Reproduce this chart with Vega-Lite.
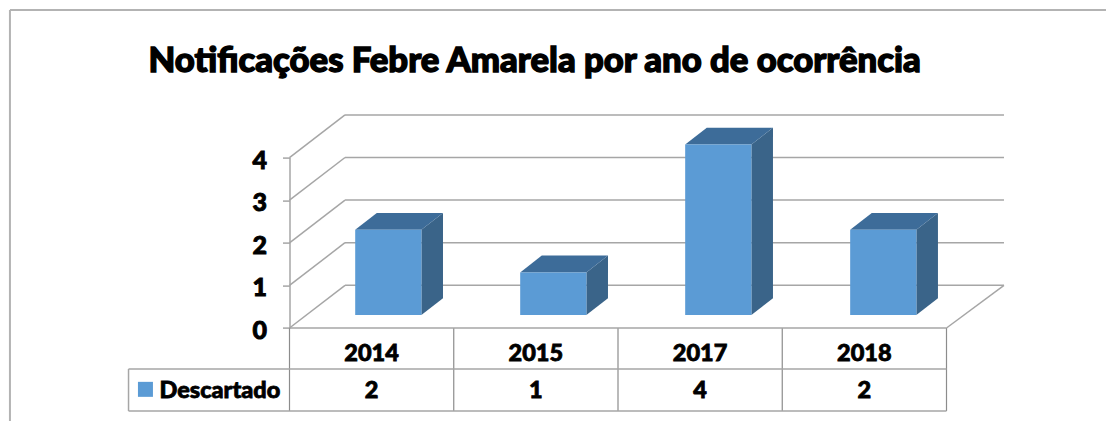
{
"$schema":"https://vega.github.io/schema/vega-lite/v6.json",
"width":657,"height":170.4,
"autosize":"none",
"padding":{"left":289.5,"top":157.6,"right":159.5,"bottom":93},
"background":"white",
"title":{"text":"Notificações Febre Amarela por ano de ocorrência","anchor":"start","frame":"group","dx":-141,"offset":-98,"fontSize":34.7,"font":"Lato","fontWeight":900,"color":"#000000","baseline":"alphabetic"},
"datasets":{
"bars":[{"ano":"2014","Descartado":2},{"ano":"2015","Descartado":1},{"ano":"2017","Descartado":4},{"ano":"2018","Descartado":2}],
"grid":[{"tick":0},{"tick":1},{"tick":2},{"tick":3},{"tick":4}],
"legend":[{"serie":"Descartado"}]
},
"view":{"stroke":null},
"config":{"view":{"stroke":null},"text":{"font":"Lato","fontWeight":900,"fontSize":23.5,"color":"#000000","stroke":"#000000","strokeWidth":0.8},
"style":{"group-title":{"stroke":"#000000","strokeWidth":1.4},"guide-label":{"stroke":"#000000","strokeWidth":0.9}}},
"resolve":{"axis":{"y":"independent","x":"independent"}},
"layer":[
{"data":{"name":"grid"},"transform":[{"calculate":"datum.tick+1.002","as":"back"}],
 "mark":{"type":"rule","color":"#a6a6a6","strokeWidth":1.5},
 "encoding":{"x":{"datum":0.338,"type":"quantitative","scale":{"domain":[0,4]},"axis":null},"x2":{"datum":4.35},
 "y":{"field":"back","type":"quantitative","scale":{"domain":[0,4]},"axis":null}}},
{"data":{"name":"grid"},"transform":[{"calculate":"datum.tick+1.002","as":"back"}],
 "mark":{"type":"rule","color":"#a6a6a6","strokeWidth":1.5},
 "encoding":{"x":{"datum":0,"type":"quantitative","scale":{"domain":[0,4]},"axis":null},"x2":{"datum":0.338},
 "y":{"field":"tick","type":"quantitative","scale":{"domain":[0,4]},"axis":{"title":null,"values":[0,1,2,3,4],"grid":false,"domain":true,"domainColor":"#a6a6a6","domainWidth":1.5,"tickColor":"#a6a6a6","tickWidth":1.5,"tickSize":7,"labelFont":"Lato","labelFontWeight":900,"labelFontSize":25,"labelColor":"#000000","labelPadding":16,"labelOffset":2.5,"format":"d"}},"y2":{"field":"back"}}},
{"data":{"name":"grid"},"mark":{"type":"rule","color":"#8c8c8c","strokeWidth":1.2},
 "encoding":{"x":{"field":"tick","type":"quantitative","scale":{"domain":[0,4]},"axis":null},
 "y":{"datum":0,"type":"quantitative","scale":{"domain":[0,4]},"axis":null},"y2":{"datum":-1.948}}},
{"data":{"name":"legend"},"mark":{"type":"rule","color":"#a6a6a6","strokeWidth":1.5},
 "encoding":{"x":{"datum":0,"type":"quantitative","scale":{"domain":[0,4]},"axis":null},"x2":{"datum":4},
 "y":{"datum":0,"type":"quantitative","scale":{"domain":[0,4]},"axis":null}}},
{"data":{"name":"legend"},"mark":{"type":"rule","color":"#a6a6a6","strokeWidth":1.5},
 "encoding":{"x":{"datum":4,"type":"quantitative","scale":{"domain":[0,4]},"axis":null},"x2":{"datum":4.35},
 "y":{"datum":0,"type":"quantitative","scale":{"domain":[0,4]},"axis":null},"y2":{"datum":1.002}}},
{"data":{"name":"legend"},"mark":{"type":"rule","color":"#a6a6a6","strokeWidth":1.5},
 "encoding":{"x":{"datum":-0.98,"type":"quantitative","scale":{"domain":[0,4]},"axis":null},"x2":{"datum":4},
 "y":{"datum":-0.962,"type":"quantitative","scale":{"domain":[0,4]},"axis":null}}},
{"data":{"name":"legend"},"mark":{"type":"rule","color":"#a6a6a6","strokeWidth":1.5},
 "encoding":{"x":{"datum":-0.98,"type":"quantitative","scale":{"domain":[0,4]},"axis":null},"x2":{"datum":4},
 "y":{"datum":-1.948,"type":"quantitative","scale":{"domain":[0,4]},"axis":null}}},
{"data":{"name":"legend"},"mark":{"type":"rule","color":"#a6a6a6","strokeWidth":1.5},
 "encoding":{"x":{"datum":-0.98,"type":"quantitative","scale":{"domain":[0,4]},"axis":null},
 "y":{"datum":-0.962,"type":"quantitative","scale":{"domain":[0,4]},"axis":null},"y2":{"datum":-1.948}}},
{"data":{"name":"legend"},"mark":{"type":"rule","color":"#b3b3b3","strokeWidth":2},
 "encoding":{"x":{"datum":-1.702,"type":"quantitative","scale":{"domain":[0,4]},"axis":null},"x2":{"datum":4.971},
 "y":{"datum":7.465,"type":"quantitative","scale":{"domain":[0,4]},"axis":null}}},
{"data":{"name":"legend"},"mark":{"type":"rule","color":"#b3b3b3","strokeWidth":2},
 "encoding":{"x":{"datum":-1.702,"type":"quantitative","scale":{"domain":[0,4]},"axis":null},
 "y":{"datum":7.465,"type":"quantitative","scale":{"domain":[0,4]},"axis":null},"y2":{"datum":-2.183}}},
{"data":{"name":"bars"},"transform":[{"window":[{"op":"row_number","as":"n"}]},
 {"calculate":"(datum.n-1)*1.0045+0.4","as":"x0"},{"calculate":"datum.x0+0.403","as":"x1"},
 {"calculate":"datum.x1+0.1315","as":"xr"},{"fold":["x1","xr"],"as":["corner","xp"]},
 {"calculate":"0.305+(datum.corner=='xr'?0.394:0)","as":"yb"},{"calculate":"datum.yb+datum.Descartado","as":"yt"}],
 "mark":{"type":"area","color":"#3a6489","interpolate":"linear"},
 "encoding":{"x":{"field":"xp","type":"quantitative","scale":{"domain":[0,4]},"axis":null},
 "y":{"field":"yb","type":"quantitative","scale":{"domain":[0,4]},"axis":null},"y2":{"field":"yt"},"detail":{"field":"ano"}}},
{"data":{"name":"bars"},"transform":[{"window":[{"op":"row_number","as":"n"}]},
 {"calculate":"(datum.n-1)*1.0045+0.4","as":"x0"},
 {"calculate":"0.305+datum.Descartado","as":"yf"},{"calculate":"datum.yf+0.394","as":"yk"},
 {"fold":["yf","yk"],"as":["corner","yp"]},
 {"calculate":"datum.x0+(datum.corner=='yk'?0.1315:0)","as":"xa"},{"calculate":"datum.xa+0.403","as":"xb"}],
 "mark":{"type":"area","color":"#3d6c99","orient":"horizontal"},
 "encoding":{"y":{"field":"yp","type":"quantitative","scale":{"domain":[0,4]},"axis":null},
 "x":{"field":"xa","type":"quantitative","scale":{"domain":[0,4]},"axis":null},"x2":{"field":"xb"},"detail":{"field":"ano"}}},
{"data":{"name":"bars"},"transform":[{"window":[{"op":"row_number","as":"n"}]},
 {"calculate":"(datum.n-1)*1.0045+0.4","as":"x0"},{"calculate":"datum.x0+0.403","as":"x1"},
 {"calculate":"0.305+datum.Descartado","as":"yf"},{"calculate":"0.305","as":"y0"}],
 "mark":{"type":"rect","color":"#5b9bd5"},
 "encoding":{"x":{"field":"x0","type":"quantitative","scale":{"domain":[0,4]},"axis":null},"x2":{"field":"x1"},
 "y":{"field":"y0","type":"quantitative","scale":{"domain":[0,4]},"axis":null},"y2":{"field":"yf"}}},
{"data":{"name":"bars"},"transform":[{"window":[{"op":"row_number","as":"n"}]},{"calculate":"datum.n-0.5","as":"xc"}],
 "mark":{"type":"text","baseline":"middle"},
 "encoding":{"x":{"field":"xc","type":"quantitative","scale":{"domain":[0,4]},"axis":null},
 "y":{"datum":-0.62,"type":"quantitative","scale":{"domain":[0,4]},"axis":null},"text":{"field":"ano"}}},
{"data":{"name":"bars"},"transform":[{"window":[{"op":"row_number","as":"n"}]},{"calculate":"datum.n-0.5","as":"xc"}],
 "mark":{"type":"text","baseline":"middle"},
 "encoding":{"x":{"field":"xc","type":"quantitative","scale":{"domain":[0,4]},"axis":null},
 "y":{"datum":-1.47,"type":"quantitative","scale":{"domain":[0,4]},"axis":null},"text":{"field":"Descartado"}}},
{"data":{"name":"legend"},"mark":{"type":"text","baseline":"middle","align":"left","fontSize":23.5},
 "encoding":{"x":{"datum":-0.792,"type":"quantitative","scale":{"domain":[0,4]},"axis":null},
 "y":{"datum":-1.47,"type":"quantitative","scale":{"domain":[0,4]},"axis":null},"text":{"field":"serie"}}},
{"data":{"name":"legend"},"mark":{"type":"point","shape":"square","filled":true,"opacity":1,"color":"#5b9bd5","stroke":null,"size":225},
 "encoding":{"x":{"datum":-0.877,"type":"quantitative","scale":{"domain":[0,4]},"axis":null},
 "y":{"datum":-1.44,"type":"quantitative","scale":{"domain":[0,4]},"axis":null}}}
]
}
